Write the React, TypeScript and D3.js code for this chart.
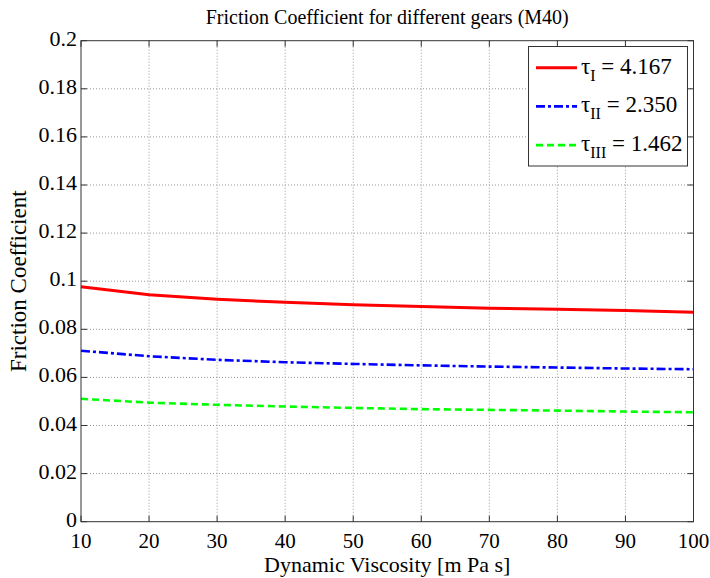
import React from "react";
import * as d3 from "d3";

const viscosity = [10, 20, 30, 40, 50, 60, 70, 80, 90, 100];
const gearI = [0.0977, 0.0944, 0.0925, 0.0912, 0.0902, 0.0895, 0.0888, 0.0883, 0.0878, 0.0871];
const gearII = [0.0711, 0.0688, 0.0673, 0.0663, 0.0656, 0.0650, 0.0645, 0.0641, 0.0637, 0.0634];
const gearIII = [0.0511, 0.0495, 0.0486, 0.0479, 0.0473, 0.0468, 0.0465, 0.0462, 0.0458, 0.0455];
const xTicks = [10, 20, 30, 40, 50, 60, 70, 80, 90, 100];
const yTicks = [0, 0.02, 0.04, 0.06, 0.08, 0.1, 0.12, 0.14, 0.16, 0.18, 0.2];
const seriesNames = ["I", "II", "III"];
const seriesValues = ["4.167", "2.350", "1.462"];

const W = 710, H = 578;
const M = { left: 81, right: 693.5, top: 40.7, bottom: 521.7 };
const FONT = "Liberation Serif";

export default function App() {
  const x = d3.scaleLinear().domain([10, 100]).range([M.left, M.right]);
  const y = d3.scaleLinear().domain([0, 0.2]).range([M.bottom, M.top]);
  const line = d3.line<number>().x((_, i) => x(viscosity[i])).y((d) => y(d));
  const series = [
    { data: gearI, color: "#ff0000", dash: "none", width: 3 },
    { data: gearII, color: "#0000ff", dash: "9,3,3,3", width: 2.6 },
    { data: gearIII, color: "#00ff00", dash: "7,4", width: 2.6 },
  ];
  const tick = 6;
  return (
    <svg width={W} height={H} style={{ position: "absolute", left: 0, top: 0, background: "#fff", fontFamily: FONT }}>
      <rect x={0} y={0} width={W} height={H} fill="#fff" />
      {xTicks.slice(1, -1).map((t) => (
        <line key={"gx" + t} x1={x(t)} x2={x(t)} y1={M.top} y2={M.bottom} stroke="#999" strokeWidth={1} strokeDasharray="1,2" />
      ))}
      {yTicks.slice(1, -1).map((t) => (
        <line key={"gy" + t} x1={M.left} x2={M.right} y1={y(t)} y2={y(t)} stroke="#999" strokeWidth={1} strokeDasharray="1,2" />
      ))}
      {xTicks.map((t) => (
        <g key={"tx" + t}>
          <line x1={x(t)} x2={x(t)} y1={M.bottom} y2={M.bottom - tick} stroke="#333" />
          <line x1={x(t)} x2={x(t)} y1={M.top} y2={M.top + tick} stroke="#333" />
          <text x={x(t)} y={M.bottom + 26} fontSize={21} textAnchor="middle" fill="#000" fontFamily={FONT}>{t}</text>
        </g>
      ))}
      {yTicks.map((t) => (
        <g key={"ty" + t}>
          <line x1={M.left} x2={M.left + tick} y1={y(t)} y2={y(t)} stroke="#333" />
          <line x1={M.right} x2={M.right - tick} y1={y(t)} y2={y(t)} stroke="#333" />
          <text x={M.left - 4} y={y(t) + 5} fontSize={22} textAnchor="end" fill="#000" fontFamily={FONT}>{d3.format("~g")(t)}</text>
        </g>
      ))}
      {series.map((s, i) => (
        <path key={i} d={line(s.data) || ""} fill="none" stroke={s.color} strokeWidth={s.width} strokeDasharray={s.dash} />
      ))}
      <rect x={M.left} y={M.top} width={M.right - M.left} height={M.bottom - M.top} fill="none" stroke="#333" strokeWidth={1} />
      <rect x={528.5} y={46.5} width={159} height={119.5} fill="#fff" stroke="#333" strokeWidth={1} />
      {series.map((s, i) => {
        const ly = 67.7 + i * 38.7;
        return (
          <g key={"lg" + i}>
            <line x1={536} x2={577} y1={ly} y2={ly} stroke={s.color} strokeWidth={s.width} strokeDasharray={s.dash} />
            <text x={581} y={ly + 6} fontSize={23} fill="#000" fontFamily={FONT}>
              τ<tspan fontSize={16} dy={7}>{seriesNames[i]}</tspan>
              <tspan dy={-7}>{" = " + seriesValues[i]}</tspan>
            </text>
          </g>
        );
      })}
      <text x={(M.left + M.right) / 2} y={24} fontSize={20} textAnchor="middle" fill="#000" fontFamily={FONT}>Friction Coefficient for different gears (M40)</text>
      <text x={(M.left + M.right) / 2} y={572} fontSize={22} textAnchor="middle" fill="#000" fontFamily={FONT}>Dynamic Viscosity [m Pa s]</text>
      <text transform={`translate(26,${(M.top + M.bottom) / 2}) rotate(-90)`} fontSize={23} textAnchor="middle" fill="#000" fontFamily={FONT}>Friction Coefficient</text>
    </svg>
  );
}
